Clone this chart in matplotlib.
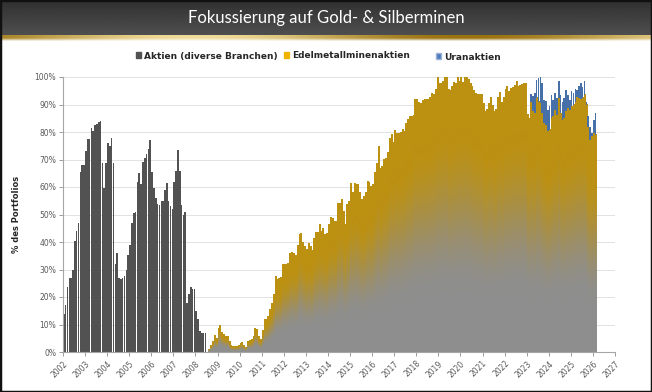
import numpy as np
import matplotlib
matplotlib.use('Agg')
import matplotlib.pyplot as plt
import matplotlib.patches as mpatches
from matplotlib.ticker import FuncFormatter, MultipleLocator

# Monatswerte in % des Portfolios, Monat 0 = Jan 2002
START_YEAR = 2002

# Aktien (diverse Branchen): Jan 2002 - Jun 2008
AKTIEN = [
    14, 17, 23.5, 27, 27, 30, 40.5, 44, 47, 65.5, 68, 68,            # 2002
    73, 77.5, 77.5, 81.5, 80.5, 82.5, 83, 83.5, 84, 68.7, 59.6, 68.7,  # 2003
    76, 75, 78, 68.7, 32, 36, 27, 26.5, 27, 27.7, 30, 35.3,          # 2004
    39, 47, 50.5, 51, 62, 65, 61, 69, 70.5, 72, 74, 77,              # 2005
    65.6, 59.6, 56, 54, 53.5, 55, 55, 59, 61.4, 55, 53, 52,          # 2006
    62, 66, 73.5, 66, 53.5, 50, 51, 18, 21, 23.5, 23, 23,            # 2007
    15, 12, 7.5, 7, 7, 7,                                            # 2008
]

# Edelmetallminenaktien: ab Aug 2008 (Monat 79)
EDEL_START = 79
EDELMETALL = [
    1.0, 2.5, 4.0, 6.0, 5.0,                                              # 2008
    8.5, 9.5, 7.0, 6.2, 5.6, 5.6, 3.8, 2.2, 1.9, 1.9, 2.1, 2.5,           # 2009
    3.0, 3.4, 2.2, 1.6, 3.8, 4.1, 4.6, 5.6, 8.6, 8.2, 5.6, 4.4,           # 2010
    8.0, 11.9, 11.9, 12.9, 15.3, 17.7, 21.0, 27.4, 26.2, 26.8, 27.0, 31.7,  # 2011
    31.7, 32.0, 32.3, 35.9, 36.2, 36.0, 35.0, 38.6, 42.6, 43.0, 39.8, 38.3,  # 2012
    37.1, 39.3, 38.3, 37.0, 41.4, 43.6, 43.6, 46.2, 43.8, 45.0, 42.8, 43.0,  # 2013
    46.2, 49.0, 48.6, 47.5, 47.5, 54.1, 54.0, 55.6, 51.0, 46.2, 53.5, 54.7,  # 2014
    61.4, 58.0, 61.4, 61.0, 61.0, 58.0, 55.3, 56.6, 58.0, 62.0, 61.6, 60.2,  # 2015
    60.8, 65.3, 68.7, 74.8, 66.9, 67.5, 69.9, 70.5, 72.6, 77.8, 79.0, 76.2,  # 2016
    80.6, 79.6, 79.6, 79.8, 81.0, 80.2, 83.0, 84.5, 85.7, 85.5, 86.0, 92.0,  # 2017
    91.8, 90.8, 90.5, 91.5, 91.8, 91.8, 92.0, 92.4, 94.0, 93.7, 95.6, 100.0,  # 2018
    97.8, 97.8, 98.4, 100.0, 99.8, 95.6, 95.0, 96.6, 98.0, 97.8, 100.0, 98.4,  # 2019
    100.0, 98.0, 100.0, 100.0, 99.0, 97.8, 96.6, 95.0, 94.0, 93.7, 93.7, 93.7,  # 2020
    90.5, 87.5, 88.3, 90.5, 92.4, 89.6, 87.5, 88.1, 92.4, 94.2, 90.8, 92.4,  # 2021
    95.6, 96.6, 94.8, 96.0, 96.2, 96.8, 98.4, 96.4, 96.8, 97.3, 97.6, 97.6,  # 2022
    86.3, 85.0, 91.0, 87.5, 86.9, 92.4, 91.0, 90.5, 86.9, 83.3, 82.7, 80.2,  # 2023
    80.8, 85.0, 85.7, 88.0, 86.3, 92.4, 86.9, 84.5, 85.0, 87.5, 88.6, 88.0,  # 2024
    89.3, 89.9, 91.0, 92.9, 92.4, 92.0, 92.4, 93.6, 89.9, 82.0, 77.2, 78.4,  # 2025
    79.6, 79.0,                                                             # 2026
]

# Uranaktien: ab Mär 2023 (Monat 254), gestapelt auf Edelmetall
URAN_START = 254
URAN = [
    3.0, 5.5, 7.3, 6.6, 8.6, 9.5, 10.9, 8.4, 8.4, 7.8,                # 2023
    8.5, 8.6, 6.0, 6.2, 6.1, 6.0, 6.7, 6.3, 7.4, 7.9, 5.0, 3.7,       # 2024
    5.5, 4.3, 4.6, 2.5, 4.4, 5.8, 4.0, 5.1, 1.0, 3.7, 4.6, 1.1,       # 2025
    4.9, 7.9,                                                         # 2026
]

YEARS = list(range(2002, 2028))
TITLE = 'Fokussierung auf Gold- & Silberminen'

W, H = 652, 392
fig = plt.figure(figsize=(W / 100, H / 100), dpi=100)


def hex2rgb(h):
    h = h.lstrip('#')
    return np.array([int(h[i:i + 2], 16) / 255 for i in (0, 2, 4)])


def gradient_bars(ax, bars, top, bottom):
    """Balken mit vertikalem Verlauf (oben Farbe, unten grau) füllen"""
    t = np.linspace(0, 1, 80)
    s = np.clip((t - 0.22) / 0.6, 0, 1)
    s = s * s * (3 - 2 * s)
    top, bottom = hex2rgb(top), hex2rgb(bottom)
    img = (bottom + (top - bottom) * s[:, None])[:, None, :]
    for b in bars:
        x, y = b.get_xy()
        w, h = b.get_width(), b.get_height()
        b.set_visible(False)
        ax.imshow(img, extent=[x, x + w, y, y + h], origin='lower',
                  aspect='auto', interpolation='bilinear', zorder=2)


# ---- Plotbereich ----
ax = fig.add_axes([63 / W, 1 - 352 / H, 552 / W, 275 / H])
ax.set_axisbelow(True)

bw = 0.88 / 12
xa = START_YEAR + np.arange(len(AKTIEN)) / 12
ax.bar(xa, AKTIEN, width=bw, align='edge', color='#525252',
       linewidth=0, zorder=2)

xe = START_YEAR + (EDEL_START + np.arange(len(EDELMETALL))) / 12
edel_bars = ax.bar(xe, EDELMETALL, width=bw, align='edge', linewidth=0)
gradient_bars(ax, edel_bars, '#BC9112', '#8E8E8E')

xu = START_YEAR + (URAN_START + np.arange(len(URAN))) / 12
u_bottom = EDELMETALL[URAN_START - EDEL_START:]
ax.bar(xu, URAN, bottom=u_bottom, width=bw, align='edge', color='#4770A8',
       linewidth=0, zorder=3)

ax.set_xlim(2002, 2027)
ax.set_ylim(0, 100)
ax.yaxis.set_major_locator(MultipleLocator(10))
ax.yaxis.set_major_formatter(FuncFormatter(lambda v, p: f'{v:.0f}%'))
ax.set_xticks(YEARS)
ax.set_xticklabels([str(y) for y in YEARS], rotation=45, ha='right',
                   rotation_mode='anchor')
ax.tick_params(axis='both', labelsize=5.5, colors='#8C8C8C',
               labelcolor='#595959', length=3, width=0.6, pad=2)
ax.grid(axis='y', color='#DDDDDD', linewidth=0.6)
for side in ['top', 'right']:
    ax.spines[side].set_visible(False)
for side in ['left', 'bottom']:
    ax.spines[side].set_color('#A6A6A6')
    ax.spines[side].set_linewidth(0.8)
ax.set_ylabel('% des Portfolios', fontsize=6, fontweight='bold',
              color='#262626', labelpad=10)

# ---- Legende ----
h_akt = mpatches.Patch(color='#525252', label='Aktien (diverse Branchen)')
h_edel = mpatches.Patch(color='#F0B400', label='Edelmetallminenaktien')
h_uran = mpatches.Patch(facecolor='#4F7BBE', edgecolor='#9DB3D6',
                        label='Uranaktien')
leg_kw = dict(frameon=False, handlelength=0.6, handleheight=0.6,
              handletextpad=0.3, columnspacing=0.7, borderaxespad=0,
              prop={'size': 6.5, 'weight': 'bold'})
leg1 = fig.legend(handles=[h_akt, h_edel], ncol=2, loc='center',
                  bbox_to_anchor=(273 / W, 1 - 56 / H), **leg_kw)
for t in leg1.get_texts():
    t.set_color('#262626')
leg2 = fig.legend(handles=[h_uran], loc='center',
                  bbox_to_anchor=(468 / W, 1 - 57 / H), **leg_kw)
for t in leg2.get_texts():
    t.set_color('#262626')

# ---- Titelbalken ----
bax = fig.add_axes([0, 1 - 35 / H, 1, 35 / H])
shade = np.linspace(0.31, 0.19, 40)[:, None]
bax.imshow(np.repeat(shade, 2, axis=1), cmap='gray', vmin=0, vmax=1,
           aspect='auto', extent=[0, 1, 0, 1], origin='lower')
bax.set_axis_off()
bax.text(0.5, 0.5, TITLE, color='white', fontsize=12, family='Lato',
         ha='center', va='center')

# goldener Streifen unter dem Titel
gax = fig.add_axes([0, 1 - 41 / H, 1, 6 / H])
xs = np.linspace(0, 1, 300)
dark = hex2rgb('#9A720F')
light = hex2rgb('#F0DC9A')
mix = 0.5 + 0.5 * np.cos((xs - 0.3) * 2 * np.pi * 1.2)
row = dark + (light - dark) * mix[:, None]
ys = np.linspace(0, 1, 12)[:, None, None]
strip = 1 - (1 - row[None, :, :]) * np.clip(0.1 + 1.8 * ys, 0, 1)
gax.imshow(strip, aspect='auto', extent=[0, 1, 0, 1], origin='lower')
gax.set_axis_off()

# ---- Rahmen ----
fig.patches.append(mpatches.Rectangle((0, 0), 1, 1, transform=fig.transFigure,
                                      fill=False, edgecolor='#111111',
                                      linewidth=2.5, zorder=10))

fig.savefig('out.png', dpi=100)
